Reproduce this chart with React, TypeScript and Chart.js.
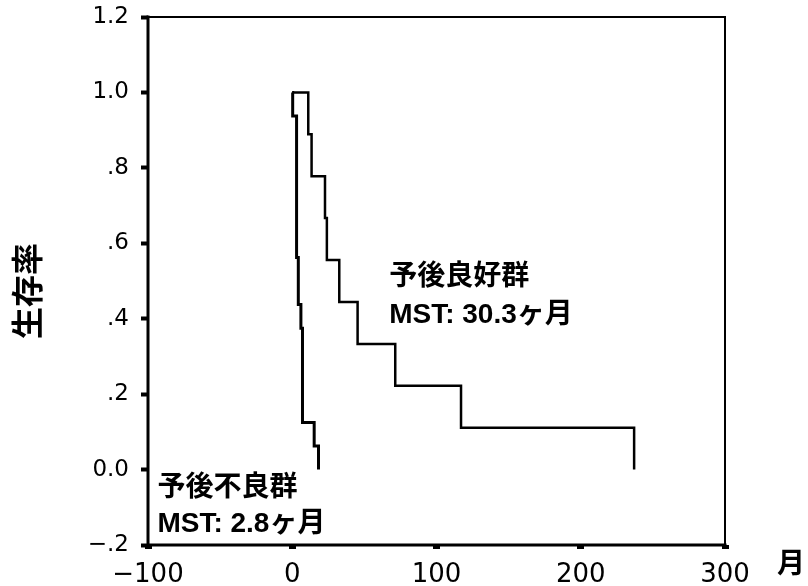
import React, { useEffect, useRef } from "react";
import { Chart, registerables } from "chart.js";

Chart.register(...registerables);

// Kaplan-Meier curves (months, survival)
const goodMonths = [0, 11.1, 13.4, 22.7, 24.0, 32.6, 45.3, 71.4, 117, 237];
const goodSurvival = [1, 0.889, 0.778, 0.667, 0.556, 0.444, 0.333, 0.222, 0.111, 0];
const poorMonths = [0, 0.3, 3.0, 4.2, 6.0, 7.1, 15.2, 18.2];
const poorSurvival = [1, 0.9375, 0.5625, 0.4375, 0.375, 0.125, 0.0625, 0];

const yTickValues = [-0.2, 0, 0.2, 0.4, 0.6, 0.8, 1.0, 1.2];
const yTickLabels = ["\u2212.2", "0.0", ".2", ".4", ".6", ".8", "1.0", "1.2"];
const xTickValues = [-100, 0, 100, 200, 300];
const xTickLabels = ["\u2212100", "0", "100", "200", "300"];

const yTitle = "生存率";
const xTitle = "月";
const goodLabel = ["予後良好群", "MST: 30.3ヶ月"];
const poorLabel = ["予後不良群", "MST: 2.8ヶ月"];

const LATIN = "'DejaVu Sans', sans-serif";
const MIXED = "'Liberation Sans', 'Noto Sans CJK JP', sans-serif";
const CJK = "'Noto Sans CJK JP', sans-serif";

const decorPlugin = {
  id: "decor",
  afterDatasetsDraw(chart: any) {
    const { ctx, chartArea } = chart;
    const { left, right, top, bottom } = chartArea;
    ctx.save();
    ctx.strokeStyle = "#000";
    ctx.lineCap = "square";
    ctx.lineWidth = 3;
    ctx.beginPath();
    ctx.moveTo(left, top);
    ctx.lineTo(left, bottom);
    ctx.lineTo(right, bottom);
    ctx.stroke();
    ctx.lineWidth = 2;
    ctx.beginPath();
    ctx.moveTo(left, top);
    ctx.lineTo(right, top);
    ctx.lineTo(right, bottom);
    ctx.stroke();

    const xs = chart.scales.x;
    const ys = chart.scales.y;
    ctx.fillStyle = "#000";
    ctx.textAlign = "left";
    ctx.textBaseline = "alphabetic";
    // good group label
    const gx = xs.getPixelForValue(67.2);
    ctx.font = "bold 28px " + CJK;
    ctx.fillText(goodLabel[0], gx, ys.getPixelForValue(0.489));
    ctx.font = "bold 28px " + MIXED;
    ctx.fillText(goodLabel[1], gx, ys.getPixelForValue(0.388));
    // poor group label
    const px = xs.getPixelForValue(-93.5);
    ctx.font = "bold 28px " + CJK;
    ctx.fillText(poorLabel[0], px, ys.getPixelForValue(-0.070));
    ctx.font = "bold 28px " + MIXED;
    ctx.fillText(poorLabel[1], px, ys.getPixelForValue(-0.166));

    // axis titles
    ctx.font = "bold 32px " + CJK;
    ctx.textAlign = "center";
    ctx.textBaseline = "middle";
    ctx.save();
    ctx.translate(27, 291);
    ctx.rotate(-Math.PI / 2);
    ctx.fillText(yTitle, 0, 0);
    ctx.restore();
    ctx.font = "bold 28px " + CJK;
    ctx.fillText(xTitle, 791, bottom + 17);
    ctx.restore();
  },
};

export default function App() {
  const ref = useRef<HTMLCanvasElement>(null);
  useEffect(() => {
    if (!ref.current) return;
    const chart = new Chart(ref.current, {
      type: "line",
      data: {
        datasets: [
          {
            label: "good",
            data: goodMonths.map((m, i) => ({ x: m, y: goodSurvival[i] })),
            borderColor: "#000",
            borderWidth: 2.5,
            stepped: true,
            pointRadius: 0,
            fill: false,
          },
          {
            label: "poor",
            data: poorMonths.map((m, i) => ({ x: m, y: poorSurvival[i] })),
            borderColor: "#000",
            borderWidth: 3,
            stepped: true,
            pointRadius: 0,
            fill: false,
          },
        ],
      },
      options: {
        animation: false,
        responsive: true,
        maintainAspectRatio: false,
        layout: { padding: { left: 0, top: 17, right: 83, bottom: 0 } },
        plugins: { legend: { display: false }, tooltip: { enabled: false } },
        scales: {
          x: {
            type: "linear",
            min: -100,
            max: 300,
            afterBuildTicks: (s: any) => {
              s.ticks = xTickValues.map((v) => ({ value: v }));
            },
            afterFit: (s: any) => {
              s.height = 41;
              s.paddingLeft = 0;
              s.paddingRight = 0;
            },
            border: { display: false },
            grid: {
              drawOnChartArea: false,
              drawTicks: true,
              tickLength: 4,
              tickWidth: 7,
              tickColor: "#000",
            },
            ticks: {
              color: "#000",
              font: { family: LATIN, size: 26 },
              padding: 11,
              maxRotation: 0,
              autoSkip: false,
              callback: (_v: any, i: number) => xTickLabels[i],
            },
          },
          y: {
            type: "linear",
            min: -0.2,
            max: 1.2,
            afterBuildTicks: (s: any) => {
              s.ticks = yTickValues.map((v) => ({ value: v }));
            },
            afterFit: (s: any) => {
              s.width = 148;
              s.paddingTop = 0;
              s.paddingBottom = 0;
            },
            border: { display: false },
            grid: {
              drawOnChartArea: false,
              drawTicks: true,
              tickLength: 7,
              tickWidth: 4,
              tickColor: "#000",
            },
            ticks: {
              color: "#000",
              font: { family: LATIN, size: 23 },
              padding: 12,
              autoSkip: false,
              callback: (_v: any, i: number) => yTickLabels[i],
            },
          },
        },
      },
      plugins: [decorPlugin],
    });
    return () => chart.destroy();
  }, []);
  return (
    <div style={{ position: "absolute", left: 0, top: 0, width: 808, height: 586, background: "#fff" }}>
      <canvas ref={ref} />
    </div>
  );
}
